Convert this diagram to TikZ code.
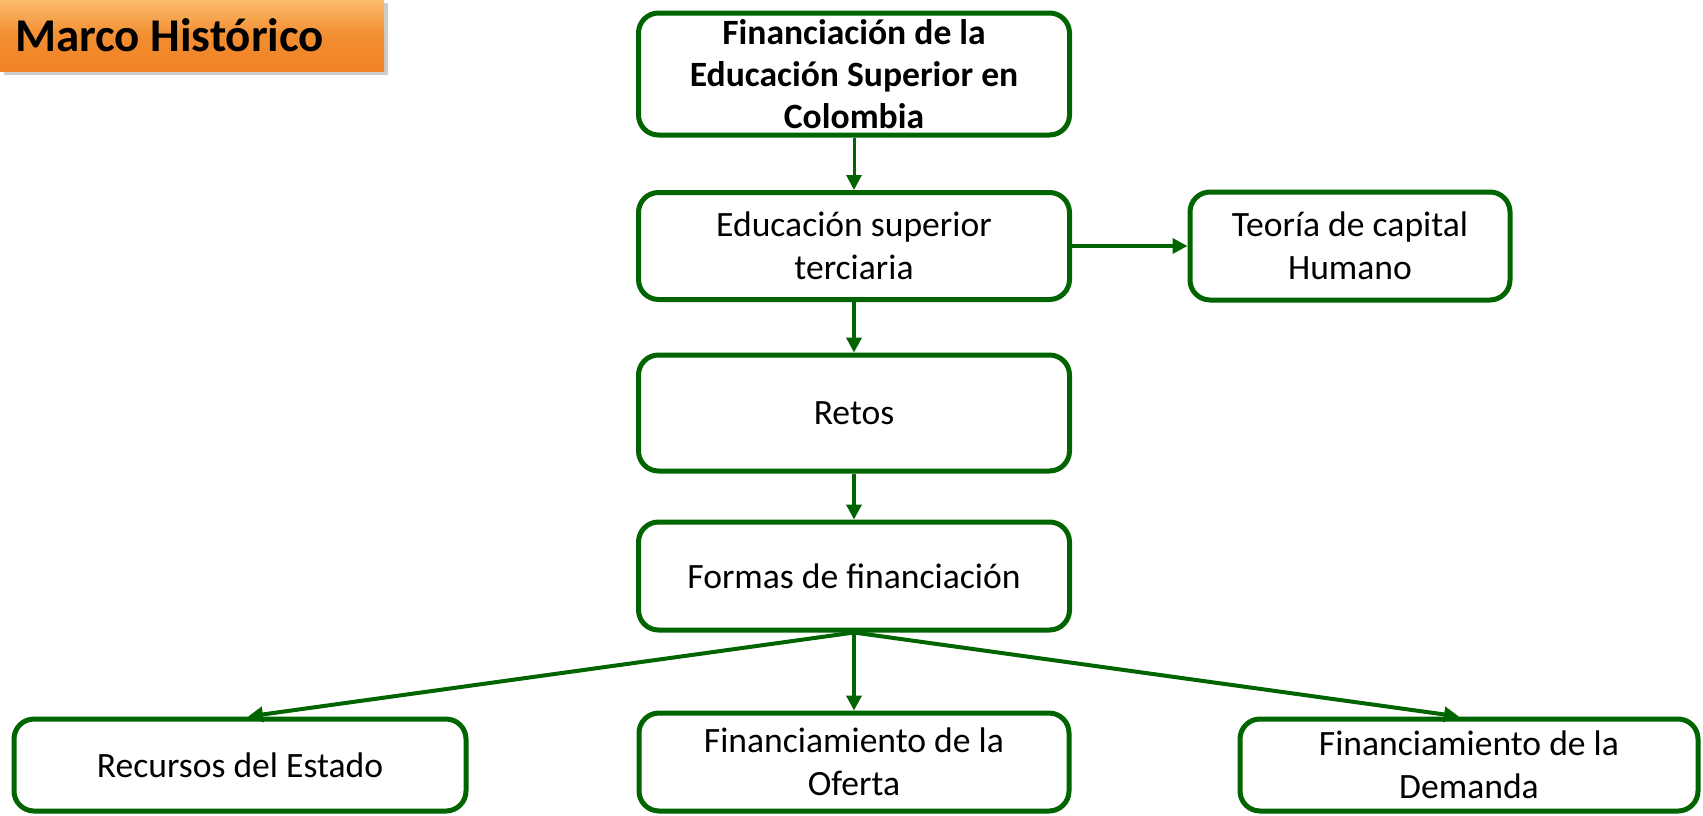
\documentclass[tikz,border=0pt]{standalone}
\usepackage{fontspec}
\setmainfont{Carlito}
\usepackage{tikz}
\usetikzlibrary{arrows.meta,shadows}

\definecolor{verde}{RGB}{0,100,0}
\definecolor{naranjaA}{RGB}{252,190,110}
\definecolor{naranjaB}{RGB}{240,130,35}

\begin{document}
\begin{tikzpicture}[x=0.5pt, y=-0.5pt,
  caja/.style={draw=verde, line width=2.5pt, rounded corners=10pt, fill=white,
    align=center, font=\fontsize{17.8}{21.5}\selectfont, inner sep=0pt},
  flecha/.style={draw=verde, line width=2pt, -{Triangle[length=7.5pt,width=7.5pt]}},
  titulo/.style={top color=naranjaA, bottom color=naranjaB, middle color=naranjaB!80!naranjaA,
    drop shadow={shadow xshift=2pt, shadow yshift=-2pt, opacity=0.4},
    minimum width=192pt, minimum height=36pt, inner sep=0pt,
    font=\bfseries\fontsize{23.5}{28}\selectfont}]

\useasboundingbox (0,0) rectangle (1703,815);

%\titulo
\node[titulo] (marco) at (192,35) {\makebox[177pt][l]{Marco Histórico}};

\node[caja, minimum width=215.5pt, minimum height=61pt, font=\bfseries\fontsize{17.8}{21}\selectfont] (fin) at (854,74) {Financiación de la\\Educación Superior en\\Colombia};
\node[caja, minimum width=215.5pt, minimum height=53.5pt] (edu) at (854,246) {Educación superior\\terciaria};
\node[caja, minimum width=160pt, minimum height=54pt] (teo) at (1350,246) {Teoría de capital\\Humano};
\node[caja, minimum width=215.5pt, minimum height=58pt] (retos) at (854,413) {Retos};
\node[caja, minimum width=215.5pt, minimum height=54pt] (formas) at (854,576) {Formas de financiación};

\node[caja, minimum width=226pt, minimum height=46pt] (rec) at (240,765) {Recursos del Estado};
\node[caja, minimum width=215pt, minimum height=49pt] (ofe) at (854,762) {Financiamiento de la\\Oferta};
\node[caja, minimum width=229pt, minimum height=46pt] (dem) at (1469,765) {Financiamiento de la\\Demanda};

\draw[flecha, line width=1.5pt] (fin) -- (edu);
\draw[flecha] (edu) -- (teo);
\draw[flecha] (edu) -- (retos);
\draw[flecha] (retos) -- (formas);
\draw[flecha] (formas.south) -- ([xshift=4pt]rec.north);
\draw[flecha] (formas.south) -- (ofe.north);
\draw[flecha] (formas.south) -- ([xshift=-5pt]dem.north);

\end{tikzpicture}
\end{document}
